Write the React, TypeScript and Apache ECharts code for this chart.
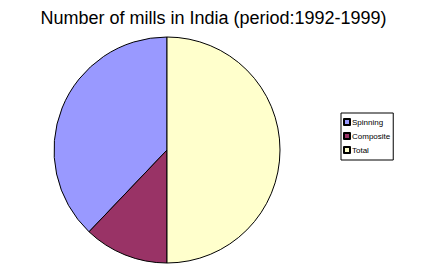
import React, { useEffect, useRef } from "react";
import * as echarts from "echarts";

const categories = ["Spinning", "Composite", "Total"];
const values = [1000, 320, 1320];
const colors = ["#9999FF", "#993366", "#FFFFCC"];
const titleText = "Number of mills in India (period:1992-1999)";

export default function App() {
  const ref = useRef<HTMLDivElement>(null);
  useEffect(() => {
    const chart = echarts.init(ref.current!, undefined, { renderer: "svg" });
    chart.setOption({
      animation: false,
      backgroundColor: "#ffffff",
      title: {
        text: titleText,
        left: "center",
        top: 4,
        textStyle: { fontFamily: "Liberation Sans, Arial", fontSize: 18, fontWeight: "normal", color: "#000" },
      },
      legend: {
        orient: "vertical",
        left: 341,
        top: 113,
        padding: [5, 3, 6, 2],
        itemWidth: 6,
        itemHeight: 6,
        itemGap: 6,
        icon: "rect",
        borderColor: "#000",
        borderWidth: 1,
        data: categories,
        textStyle: {
          fontFamily: "Liberation Sans, Arial",
          fontSize: 8,
          color: "#000",
          lineHeight: 6,
          padding: [0, 0, 0, -3],
          textBorderWidth: 0,
          textBorderColor: "transparent",
          textShadowBlur: 0,
          textShadowColor: "transparent",
        },
      },
      series: [
        {
          type: "pie",
          center: [167, 150],
          radius: 113,
          startAngle: 90,
          clockwise: false,
          label: { show: false },
          labelLine: { show: false },
          emphasis: { disabled: true },
          itemStyle: { borderColor: "#000", borderWidth: 1 },
          data: categories.map((c, i) => ({ name: c, value: values[i], itemStyle: { color: colors[i] } })),
        },
      ],
    });
    return () => chart.dispose();
  }, []);
  return <div ref={ref} style={{ width: 427, height: 270, position: "absolute", left: 0, top: 0 }} />;
}
